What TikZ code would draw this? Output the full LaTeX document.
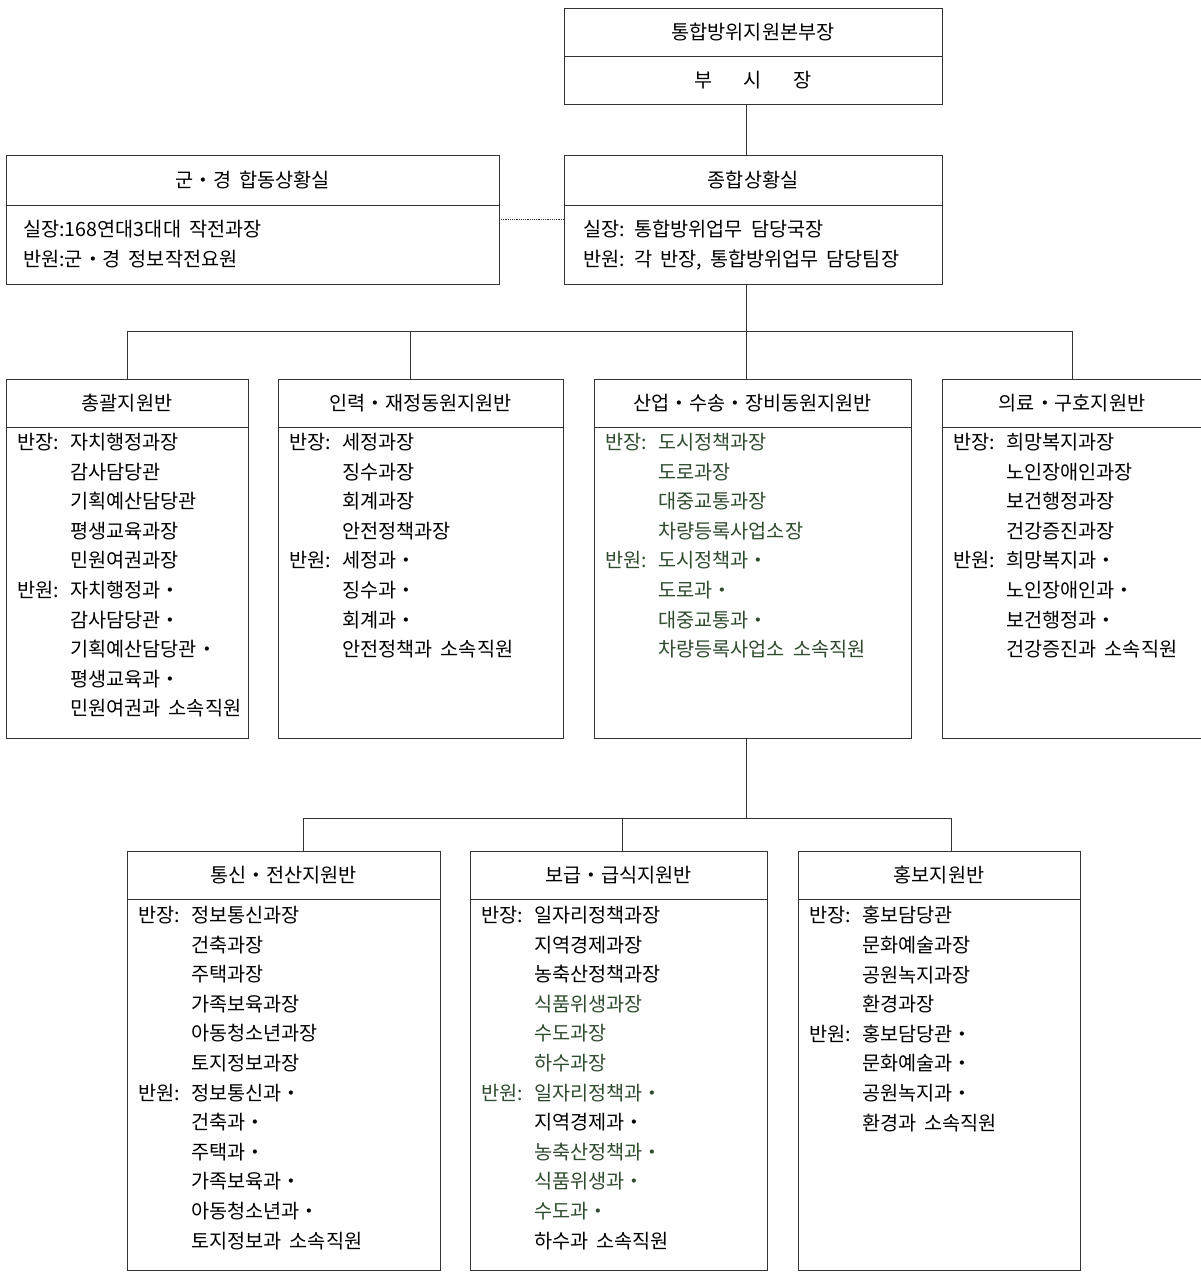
\documentclass[tikz,border=0pt]{standalone}
\usepackage{fontspec}
\setmainfont{Noto Sans CJK KR}[WordSpace=1.8]
\usepackage{xcolor}
\definecolor{deptgreen}{HTML}{2F4B2F}
\usepackage{tikz}
\usetikzlibrary{positioning}
\newcommand{\role}[1]{\makebox[1.325cm][l]{#1}}

\begin{document}
\begin{tikzpicture}[x=0.025cm, y=-0.025cm,
    unitbox/.style={draw=black!80, line width=0.65pt, inner sep=0pt, outer sep=0pt, anchor=north west},
    unithead/.style={draw=black!80, line width=0.65pt, inner sep=0pt, outer sep=0pt, anchor=north, minimum height=1.2cm, font=\fontsize{14}{16}\selectfont},
    unitbody/.style={anchor=north west, inner sep=0pt, align=left, font=\fontsize{14}{21.05}\selectfont},
    link/.style={draw=black!80, line width=0.65pt}]
    \useasboundingbox (0,0) rectangle (1201,1282);

    % headquarters
    \node[unithead, minimum width=9.45cm] (hq) at (753,8) {통합방위지원본부장};
    \node[unithead, minimum width=9.45cm, below=0pt of hq] (vice) {부\hspace{1.6em}시\hspace{1.6em}장};

    % situation rooms
    \node[unitbox, minimum width=12.325cm, minimum height=3.225cm] (joint) at (6,155) {};
    \node[unithead, minimum width=12.325cm, minimum height=1.25cm] (jointh) at (joint.north) {군・경 합동상황실};
    \node[unitbody] (jointb) at (23,220) {실장:168연대3대대 작전과장\\반원:군・경 정보작전요원};

    \node[unitbox, minimum width=9.45cm, minimum height=3.225cm] (sit) at (564,155) {};
    \node[unithead, minimum width=9.45cm, minimum height=1.25cm] (sith) at (sit.north) {종합상황실};
    \node[unitbody] (sitb) at (583,220) {실장: 통합방위업무 담당국장\\반원: 각 반장, 통합방위업무 담당팀장};

    % first row of support teams
    \node[unitbox, minimum width=6.05cm, minimum height=8.975cm] (g1) at (6,379) {};
    \node[unithead, minimum width=6.05cm] (g1h) at (g1.north) {총괄지원반};
    \node[unitbody] (g1b) at (17,433) {\role{반장:}자치행정과장\\ \role{}감사담당관\\ \role{}기획예산담당관\\
        \role{}평생교육과장\\ \role{}민원여권과장\\ \role{반원:}자치행정과・\\ \role{}감사담당관・\\
        \role{}기획예산담당관・\\ \role{}평생교육과・\\ \role{}민원여권과 소속직원};

    \node[unitbox, minimum width=7.125cm, minimum height=8.975cm] (g2) at (278,379) {};
    \node[unithead, minimum width=7.125cm] (g2h) at (g2.north) {인력・재정동원지원반};
    \node[unitbody] (g2b) at (289,433) {\role{반장:}세정과장\\ \role{}징수과장\\ \role{}회계과장\\ \role{}안전정책과장\\
        \role{반원:}세정과・\\ \role{}징수과・\\ \role{}회계과・\\ \role{}안전정책과 소속직원};

    \node[unitbox, minimum width=7.925cm, minimum height=8.975cm] (g3) at (594,379) {};
    \node[unithead, minimum width=7.925cm] (g3h) at (g3.north) {산업・수송・장비동원지원반};
    \node[unitbody, text=deptgreen] (g3b) at (605,433) {\role{반장:}도시정책과장\\ \role{}도로과장\\ \role{}대중교통과장\\
        \role{}차량등록사업소장\\ \role{반원:}도시정책과・\\ \role{}도로과・\\ \role{}대중교통과・\\
        \role{}차량등록사업소 소속직원};

    \node[unitbox, minimum width=6.5cm, minimum height=8.975cm] (g4) at (942,379) {};
    \node[unithead, minimum width=6.5cm] (g4h) at (g4.north) {의료・구호지원반};
    \node[unitbody] (g4b) at (953,433) {\role{반장:}희망복지과장\\ \role{}노인장애인과장\\ \role{}보건행정과장\\
        \role{}건강증진과장\\ \role{반원:}희망복지과・\\ \role{}노인장애인과・\\ \role{}보건행정과・\\
        \role{}건강증진과 소속직원};

    % second row of support teams
    \node[unitbox, minimum width=7.825cm, minimum height=10.475cm] (h1) at (127,851) {};
    \node[unithead, minimum width=7.825cm] (h1h) at (h1.north) {통신・전산지원반};
    \node[unitbody] (h1b) at (138,906) {\role{반장:}정보통신과장\\ \role{}건축과장\\ \role{}주택과장\\ \role{}가족보육과장\\
        \role{}아동청소년과장\\ \role{}토지정보과장\\ \role{반원:}정보통신과・\\ \role{}건축과・\\ \role{}주택과・\\
        \role{}가족보육과・\\ \role{}아동청소년과・\\ \role{}토지정보과 소속직원};

    \node[unitbox, minimum width=7.425cm, minimum height=10.475cm] (h2) at (470,851) {};
    \node[unithead, minimum width=7.425cm] (h2h) at (h2.north) {보급・급식지원반};
    \node[unitbody] (h2b) at (481,906) {\role{반장:}일자리정책과장\\ \role{}지역경제과장\\ \role{}농축산정책과장\\
        \role{}\textcolor{deptgreen}{식품위생과장}\\ \role{}\textcolor{deptgreen}{수도과장}\\
        \role{}\textcolor{deptgreen}{하수과장}\\ \textcolor{deptgreen}{\role{반원:}일자리정책과・}\\
        \role{}지역경제과・\\ \role{}\textcolor{deptgreen}{농축산정책과・}\\ \role{}\textcolor{deptgreen}{식품위생과・}\\
        \role{}\textcolor{deptgreen}{수도과・}\\ \role{}하수과 소속직원};

    \node[unitbox, minimum width=7.05cm, minimum height=10.475cm] (h3) at (798,851) {};
    \node[unithead, minimum width=7.05cm] (h3h) at (h3.north) {홍보지원반};
    \node[unitbody] (h3b) at (809,906) {\role{반장:}홍보담당관\\ \role{}문화예술과장\\ \role{}공원녹지과장\\ \role{}환경과장\\
        \role{반원:}홍보담당관・\\ \role{}문화예술과・\\ \role{}공원녹지과・\\ \role{}환경과 소속직원};

    % connectors
    \coordinate (bus1) at (746,331);
    \coordinate (bus2) at (746,818);
    \coordinate (d2) at (410,331);
    \coordinate (t1) at (303,818);
    \coordinate (t2) at (622,818);
    \coordinate (t3) at (951,818);

    \draw[link] (vice.south -| bus1) -- (sit.north -| bus1);
    \draw[link, dash pattern=on 0.6pt off 0.7pt] (joint.east) -- (sit.west);
    \draw[link] (sit.south -| bus1) -- (g3.north -| bus1);
    \draw[link] (g1.north) -- (g1.north |- bus1) -- (g4.north |- bus1) -- (g4.north);
    \draw[link] (d2) -- (d2 |- g2.north);
    \draw[link] (g3.south -| bus2) -- (bus2);
    \draw[link] (t1 |- h1.north) -- (t1) -- (t3) -- (t3 |- h3.north);
    \draw[link] (t2) -- (t2 |- h2.north);
\end{tikzpicture}
\end{document}
